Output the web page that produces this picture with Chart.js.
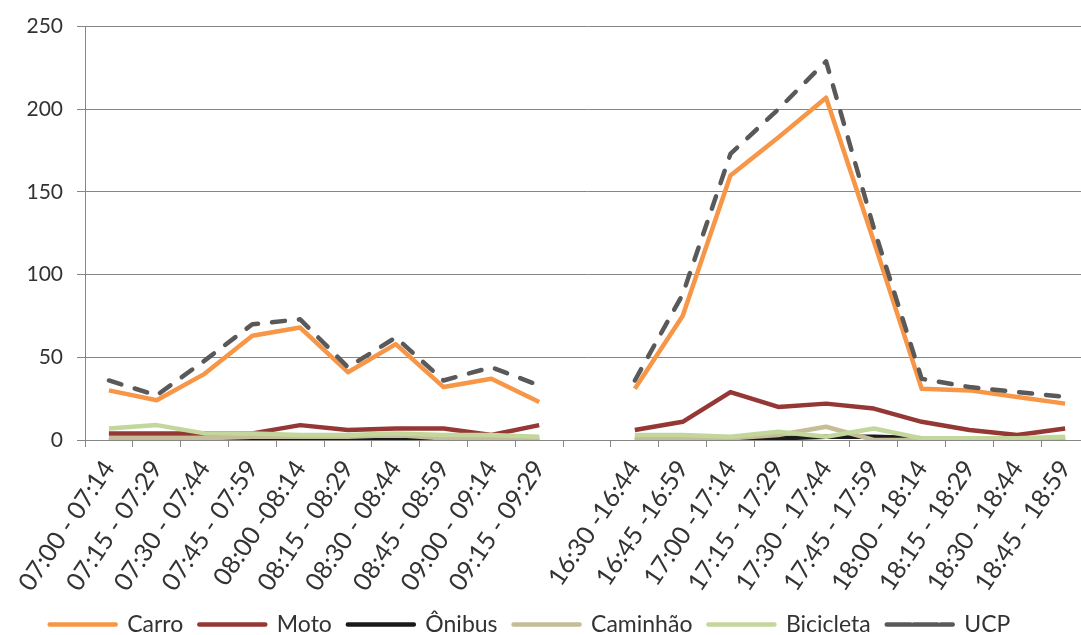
<!DOCTYPE html>
<html>
<head>
<meta charset="utf-8">
<script src="https://cdn.jsdelivr.net/npm/chart.js@4/dist/chart.umd.min.js"></script>
<style>
  html, body { margin: 0; padding: 0; background: #fff; overflow: hidden; }
  #wrap { width: 1098px; height: 635px; }
</style>
</head>
<body>
<div id="wrap"><canvas id="traffic"></canvas></div>
<script>
// Categories (blank slot separates morning and evening counts)
var periods = ['07:00 - 07:14', '07:15 - 07:29', '07:30 - 07:44', '07:45 - 07:59', '08:00 -08:14',
  '08:15 - 08:29', '08:30 - 08:44', '08:45 - 08:59', '09:00 - 09:14', '09:15 - 09:29', '',
  '16:30 -16:44', '16:45 -16:59', '17:00 -17:14', '17:15 - 17:29', '17:30 - 17:44',
  '17:45 - 17:59', '18:00 - 18:14', '18:15 - 18:29', '18:30 - 18:44', '18:45 - 18:59'];

var carro     = [30, 24, 40, 63, 68, 41, 58, 32, 37, 23, null, 31, 75, 160, 183, 207, 120, 31, 30, 26, 22];
var moto      = [4, 4, 4, 4, 9, 6, 7, 7, 3, 9, null, 6, 11, 29, 20, 22, 19, 11, 6, 3, 7];
var onibus    = [0, 0, 0, 1, 1, 0, 0, 0, 0, 0, null, 0, 0, 0, 1, 2, 2, 1, 1, 0, 0];
var caminhao  = [1, 1, 1, 2, 2, 2, 3, 1, 1, 1, null, 1, 1, 1, 3, 8, 0, 0, 1, 1, 1];
var bicicleta = [7, 9, 4, 4, 3, 3, 4, 3, 3, 2, null, 3, 3, 2, 5, 2, 7, 1, 1, 1, 2];
var ucp       = [36, 27, 48, 70, 73, 44, 62, 36, 44, 33, null, 36, 88, 173, 200, 229, 128, 37, 32, 29, 26];

var yTicks = [0, 50, 100, 150, 200, 250];

var yFont = { family: 'Lato', size: 21 };
var xFont = { family: 'Lato', size: 25 };
var legendFont = { family: 'Lato', size: 23 };
var textColor = '#333333';
var axisColor = '#868686';

function line(label, data, color, order, dash) {
  return {
    label: label,
    data: data,
    borderColor: color,
    backgroundColor: color,
    borderWidth: 4.5,
    borderDash: dash || [],
    borderCapStyle: dash ? 'round' : 'butt',
    borderJoinStyle: 'round',
    pointRadius: 0,
    tension: 0,
    spanGaps: false,
    order: order
  };
}

// legend sits a bit left of the canvas centre in the original
var legendShift = {
  id: 'legendShift',
  afterLayout: function (chart) {
    chart.legend.left -= 19;
    chart.legend.right -= 19;
  }
};

var ctx = document.getElementById('traffic').getContext('2d');
var chart = new Chart(ctx, {
  type: 'line',
  data: {
    labels: periods,
    datasets: [
      line('Carro', carro, '#F79646', 5),
      line('Moto', moto, '#953735', 4),
      line('Ônibus', onibus, '#1a1a1a', 3),
      line('Caminhão', caminhao, '#C4BD97', 2),
      line('Bicicleta', bicicleta, '#C3D69B', 1),
      line('UCP', ucp, '#595959', 0, [13, 14])
    ]
  },
  plugins: [legendShift],
  options: {
    responsive: true,
    maintainAspectRatio: false,
    animation: false,
    // negative bottom padding pushes the legend close to the lower edge
    layout: { padding: { top: 21, left: 0, right: 0, bottom: -11 } },
    plugins: {
      tooltip: { enabled: false },
      legend: {
        position: 'bottom',
        reverse: true,
        labels: {
          font: legendFont,
          color: textColor,
          boxWidth: 66,
          boxHeight: 0,
          padding: 16
        }
      }
    },
    scales: {
      x: {
        offset: true,
        afterFit: function (scale) { scale.height = 157; },
        grid: { offset: true, drawOnChartArea: false, drawTicks: true, tickLength: 7, color: axisColor },
        border: { color: axisColor, width: 1 },
        ticks: { autoSkip: false, minRotation: 56, maxRotation: 56, padding: 8, font: xFont, color: textColor }
      },
      y: {
        min: 0,
        max: 250,
        afterFit: function (scale) { scale.width = 85; },
        afterBuildTicks: function (scale) { scale.ticks = yTicks.map(function (v) { return { value: v }; }); },
        grid: { color: axisColor, tickLength: 8 },
        border: { color: axisColor, width: 1 },
        ticks: { padding: 14, font: yFont, color: textColor }
      }
    }
  }
});
</script>
</body>
</html>
